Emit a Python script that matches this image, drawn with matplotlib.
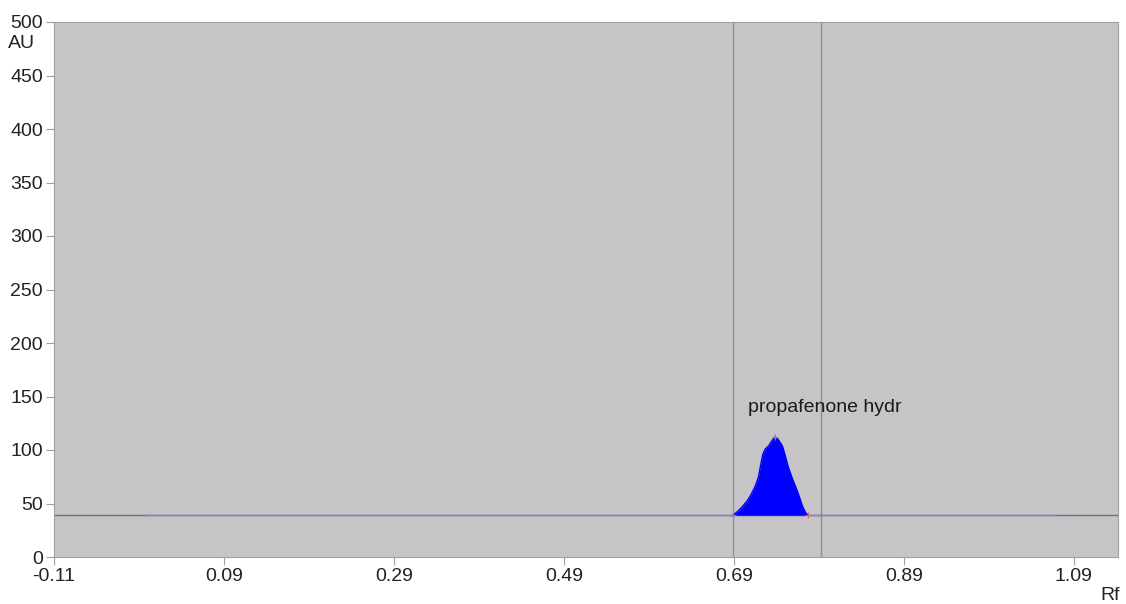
import matplotlib
matplotlib.use('Agg')
import matplotlib.pyplot as plt
import numpy as np

plt.rcParams['font.family'] = ['Liberation Sans', 'DejaVu Sans']

# baseline and peak data
baseline = 39
blue_start, blue_end = 0.0, 1.07
peak_rf = [0.689, 0.695, 0.701, 0.706, 0.710, 0.715, 0.719, 0.721, 0.724, 0.727,
           0.731, 0.735, 0.738, 0.742, 0.747, 0.750, 0.754, 0.759, 0.764, 0.768,
           0.771, 0.774, 0.777]
peak_au = [39, 43, 48, 53, 58, 66, 75, 84, 96, 101,
           104, 109, 112, 110, 104, 96, 84, 73, 63, 54,
           47, 42, 39]
marks_rf = [0.689, 0.738, 0.777, 0.792]
marks_au = [39, 112, 39, 39]
window = [0.689, 0.792]
label = 'propafenone hydr'
xticks = [-0.11, 0.09, 0.29, 0.49, 0.69, 0.89, 1.09]
yticks = list(range(0, 501, 50))

fig = plt.figure(figsize=(11.26, 6.04), dpi=100)
ax = fig.add_axes([54/1126, 1-557/604, 1064/1126, 535/604])
ax.set_facecolor('#c6c4c7')

ax.axhline(baseline, color='#707070', lw=1, zorder=2)
ax.plot([blue_start, blue_end], [baseline, baseline], color='#8080e0', lw=1, zorder=3)
for w in window:
    ax.axvline(w, color='#8c9696', lw=1, zorder=2)

ax.fill_between(peak_rf, baseline, peak_au, color='#0000ff', lw=0, zorder=4)
ax.plot(peak_rf, peak_au, color='#0000ff', lw=1, zorder=4)
ax.plot(marks_rf, marks_au, ls='none', marker='+', ms=4, color='#e06060', mew=0.8, zorder=5)
ax.text(0.707, 140, label, fontsize=14, color='#1a1a1a', va='center')

ax.set_xlim(-0.11, 1.142)
ax.set_ylim(0, 500)
ax.set_xticks(xticks)
ax.set_xticklabels(['%.2f' % t for t in xticks])
ax.set_yticks(yticks)
for s in ax.spines.values():
    s.set_color('#a0a0a0')
ax.tick_params(colors='#a0a0a0', labelcolor='#222222', labelsize=14, length=6, width=0.8, pad=2)

fig.text(8/1126, 1-44/604, 'AU', fontsize=14, color='#222222', va='center')
fig.text(1110/1126, 1-596/604, 'Rf', fontsize=14, color='#222222', ha='center', va='center')

fig.savefig('out.png', dpi=100)
